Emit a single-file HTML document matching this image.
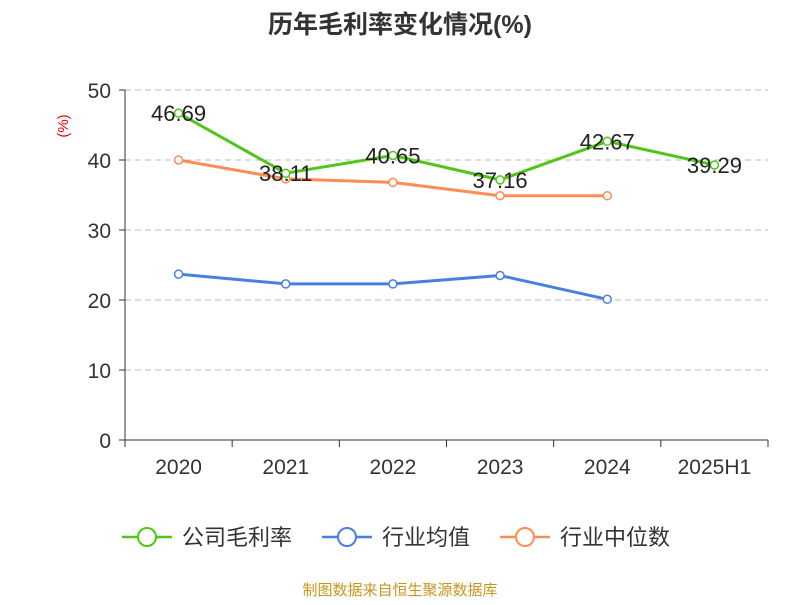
<!DOCTYPE html>
<html><head><meta charset="utf-8"><style>
body{margin:0;background:#fff;width:800px;height:600px;overflow:hidden;font-family:"Liberation Sans","Noto Sans CJK SC",sans-serif}
</style></head><body>
<svg id="chart" width="800" height="600" xmlns="http://www.w3.org/2000/svg" font-family="Liberation Sans, Noto Sans CJK SC, sans-serif">
<text x="400" y="33" text-anchor="middle" font-size="25" font-weight="bold" fill="#333">历年毛利率变化情况(%)</text>
<text transform="translate(68,126) rotate(-90)" text-anchor="middle" font-size="15" fill="#e00">(%)</text>
<g id="grid"></g><g id="axes"></g><g id="series"></g>
<g>
<g><line x1="122" y1="537" x2="172" y2="537" stroke="#52c41a" stroke-width="2.5"/><circle cx="147" cy="537" r="9" fill="#fff" stroke="#52c41a" stroke-width="2"/><text x="182" y="545" font-size="22" fill="#333">公司毛利率</text></g>
<g><line x1="322" y1="537" x2="372" y2="537" stroke="#4a7fe0" stroke-width="2.5"/><circle cx="347" cy="537" r="9" fill="#fff" stroke="#4a7fe0" stroke-width="2"/><text x="382" y="545" font-size="22" fill="#333">行业均值</text></g>
<g><line x1="500" y1="537" x2="550" y2="537" stroke="#ff8c55" stroke-width="2.5"/><circle cx="525" cy="537" r="9" fill="#fff" stroke="#ff8c55" stroke-width="2"/><text x="560" y="545" font-size="22" fill="#333">行业中位数</text></g>
</g>
<text x="400" y="595" text-anchor="middle" font-size="15" fill="#c8961e">制图数据来自恒生聚源数据库</text>
</svg>
<script>
const categories=["2020","2021","2022","2023","2024","2025H1"];
const companyValues=[46.69,38.11,40.65,37.16,42.67,39.29];
const industryAvg=[23.7,22.3,22.3,23.5,20.1];
const industryMedian=[40.0,37.3,36.8,34.9,34.9];
const yTicks=[0,10,20,30,40,50];
const NS="http://www.w3.org/2000/svg";
const x0=125,x1=768,y0=440,y1=90,yMax=50;
const bw=(x1-x0)/categories.length;
const xs=i=>x0+bw*(i+0.5);
const ys=v=>y0-(v/yMax)*(y0-y1);
function mk(t,a,p){const e=document.createElementNS(NS,t);for(const k in a)e.setAttribute(k,a[k]);p.appendChild(e);return e;}
const grid=document.getElementById('grid'),axes=document.getElementById('axes'),ser=document.getElementById('series');
yTicks.forEach(v=>{
 if(v>0){const g=mk('line',{x1:x0,x2:x1,y1:ys(v),y2:ys(v),stroke:'#bbb','stroke-dasharray':'6,4'},grid);
 
 }
 const tk=mk('line',{x1:x0-6,x2:x0,y1:ys(v),y2:ys(v),stroke:'#333'},axes);
 
 
 const t=mk('text',{x:x0-14,y:ys(v)+8,'text-anchor':'end','font-size':21,fill:'#333'},axes);t.textContent=v;
 
 
});
const ya=mk('line',{x1:x0,x2:x0,y1:y1,y2:y0,stroke:'#333'},axes);


const xa=mk('line',{x1:x0,x2:x1,y1:y0,y2:y0,stroke:'#333'},axes);


for(let i=0;i<=categories.length;i++){const l=mk('line',{x1:x0+bw*i,x2:x0+bw*i,y1:y0,y2:y0+7,stroke:'#333'},axes);
 
 }
categories.forEach((c,i)=>{const t=mk('text',{x:xs(i),y:474,'text-anchor':'middle','font-size':21,fill:'#333'},axes);t.textContent=c;
 
 });
function series(vals,color,name,labels){
 const g=mk('g',{},ser);
 
 
 const p=mk('polyline',{points:vals.map((v,i)=>xs(i)+','+ys(v)).join(' '),fill:'none',stroke:color,'stroke-width':3},g);
 
 
 vals.forEach((v,i)=>{const c=mk('circle',{cx:xs(i),cy:ys(v),r:4,fill:'#fff',stroke:color,'stroke-width':1.5},g);
  
  
  if(labels){const t=mk('text',{x:xs(i),y:ys(v)+8,'text-anchor':'middle','font-size':22,fill:'#222'},g);t.textContent=v.toFixed(2);
  
  }
 });
}
series(industryAvg,'#4a7fe0','industry-avg',false);
series(industryMedian,'#ff8c55','industry-median',false);
series(companyValues,'#52c41a','company',true);
</script>
</body></html>
